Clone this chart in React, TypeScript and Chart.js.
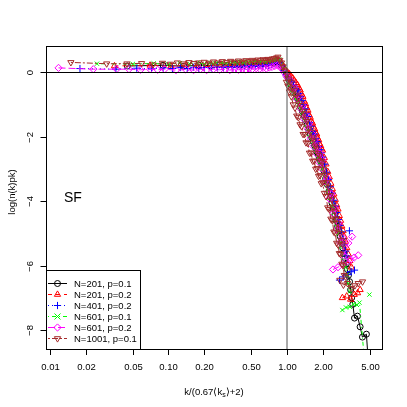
import React, { useEffect, useRef } from "react";
import { Chart, registerables } from "chart.js";
Chart.register(...registerables);

const seriesLabels = ["N=201, p=0.1", "N=201, p=0.2", "N=401, p=0.2", "N=601, p=0.1", "N=601, p=0.2", "N=1001, p=0.1"];
const seriesColors = ["#000000", "#FF0000", "#0000FF", "#00FF00", "#FF00FF", "#A52A2A"];

const xTicks = [0.01, 0.02, 0.05, 0.1, 0.2, 0.5, 1, 2, 5];
const xTickLabels = ["0.01", "0.02", "0.05", "0.10", "0.20", "0.50", "1.00", "2.00", "5.00"];
const yTicks = [0, -2, -4, -6, -8];
const yTickLabels = ["0", "\u22122", "\u22124", "\u22126", "\u22128"];

// null entries break the connecting line (separate runs)
// N=201, p=0.1
const x1 = [0.045, 0.09, 0.135, 0.18, 0.225, 0.27, 0.315, 0.36, 0.405, 0.45, 0.495, 0.54, 0.585, 0.63, 0.675, 0.72, 0.765, 0.81, 0.855, 0.9, 0.945, 0.99, 1.035, 1.08, 1.125, 1.17, 1.215, 1.26, 1.305, 1.35, 1.395, 1.44, 1.485, 1.53, 1.575, 1.62, 1.665, 1.71, 1.755, 1.8, 1.845, 1.89, 1.935, 1.98, 2.05, 2.12, 2.19, 2.26, 2.33, 2.4, 2.47, 2.54, 2.61, 2.68, 2.75, 2.82, 2.89, 2.96, 3.03, 3.1, 3.17, 3.24, 3.31, 3.38, 3.45, 3.52, 3.6, 3.72, 3.94, 4.15, 4.34, 4.69, 4.95];
const y1 = [0.2, 0.22, 0.19, 0.23, 0.21, 0.24, 0.22, 0.25, 0.23, 0.26, 0.24, 0.27, 0.25, 0.28, 0.27, 0.3, 0.29, 0.33, 0.35, 0.22, 0.08, -0.06, -0.22, -0.38, -0.52, -0.65, -0.78, -0.9, -1.06, -1.2, -1.34, -1.5, -1.62, -1.78, -1.92, -2.02, -2.15, -2.26, -2.36, -2.48, -2.57, -2.68, -2.78, -2.88, -3.05, -3.3, -3.48, -3.7, -3.88, -4.05, -4.25, -4.42, -4.6, -4.78, -4.92, -5.1, -5.28, -5.45, -5.62, -5.78, -5.95, -6.12, -6.3, -6.5, -6.75, -7.0, -7.2, -7.63, -7.57, -7.9, -8.22, -8.13, -9.4];

// N=201, p=0.2
const x2 = [0.035, 0.07, 0.105, 0.14, 0.175, 0.21, 0.245, 0.28, 0.315, 0.35, 0.385, 0.42, 0.455, 0.49, 0.525, 0.56, 0.595, 0.63, 0.665, 0.7, 0.735, 0.77, 0.805, 0.84, 0.875, 0.91, 0.945, 0.98, 1.015, 1.05, 1.085, 1.12, 1.155, 1.19, 1.225, 1.26, 1.295, 1.33, 1.365, 1.4, 1.435, 1.47, 1.505, 1.54, 1.575, 1.61, 1.645, 1.68, 1.715, 1.75, 1.785, 1.82, 1.855, 1.89, 1.925, 1.96, 2.0, 2.07, 2.14, 2.21, 2.28, 2.35, 2.42, 2.49, 2.56, 2.63, 2.7, 2.77, 2.84, 2.91, 2.98, 3.05, 3.12, 3.2, 3.3, 3.4, 3.5, null, 2.94, 3.2, 3.45, 3.7, 3.95, 4.15];
const y2 = [0.2, 0.22, 0.19, 0.23, 0.2, 0.24, 0.21, 0.25, 0.22, 0.26, 0.24, 0.27, 0.25, 0.28, 0.26, 0.29, 0.27, 0.3, 0.28, 0.31, 0.29, 0.33, 0.35, 0.38, 0.34, 0.26, 0.15, 0.05, 0.0, -0.05, -0.12, -0.18, -0.25, -0.32, -0.38, -0.48, -0.55, -0.68, -0.75, -0.9, -0.98, -1.1, -1.18, -1.32, -1.4, -1.52, -1.58, -1.7, -1.76, -1.88, -1.92, -2.05, -2.1, -2.22, -2.28, -2.38, -2.42, -2.65, -2.85, -3.08, -3.25, -3.45, -3.62, -3.78, -3.95, -4.12, -4.25, -4.45, -4.6, -4.78, -4.92, -5.1, -5.25, -5.45, -5.65, -5.85, -6.05, null, -7.0, -6.95, -7.05, -6.9, -6.85, -6.75];

// N=401, p=0.2
const x3 = [0.0179, 0.036, 0.054, 0.072, 0.09, 0.108, 0.126, 0.144, 0.162, 0.18, 0.2, 0.23, 0.26, 0.29, 0.32, 0.35, 0.38, 0.41, 0.44, 0.47, 0.5, 0.54, 0.58, 0.62, 0.66, 0.7, 0.74, 0.78, 0.82, 0.86, 0.9, 0.94, 0.98, 1.02, 1.06, 1.1, 1.14, 1.18, 1.22, 1.26, 1.3, 1.34, 1.38, 1.42, 1.46, 1.5, 1.55, 1.6, 1.65, 1.7, 1.75, 1.8, 1.85, 1.9, 1.95, 2.0, 2.08, 2.16, 2.24, 2.32, 2.4, 2.48, 2.56, 2.64, 2.72, 2.8, 2.88, 2.96, 3.04, 3.12, 3.2, null, 3.37, null, 2.78, 3.0, 3.25, 3.49, 3.72];
const y3 = [0.12, 0.1, 0.13, 0.11, 0.14, 0.12, 0.15, 0.12, 0.16, 0.13, 0.15, 0.14, 0.17, 0.15, 0.18, 0.16, 0.19, 0.17, 0.2, 0.18, 0.21, 0.19, 0.22, 0.2, 0.23, 0.22, 0.25, 0.27, 0.3, 0.32, 0.2, 0.05, -0.08, -0.18, -0.26, -0.3, -0.4, -0.5, -0.55, -0.65, -0.75, -0.87, -1.0, -1.13, -1.27, -1.37, -1.55, -1.67, -1.83, -1.91, -2.05, -2.15, -2.3, -2.4, -2.5, -2.63, -2.85, -3.1, -3.33, -3.55, -3.75, -3.97, -4.15, -4.35, -4.57, -4.75, -4.95, -5.17, -5.35, -5.55, -5.7, null, -4.92, null, -6.45, -6.35, -6.28, -6.19, -6.14];

// N=601, p=0.1
const x4 = [0.0249, 0.05, 0.075, 0.1, 0.125, 0.15, 0.175, 0.2, 0.225, 0.25, 0.28, 0.31, 0.34, 0.37, 0.4, 0.43, 0.46, 0.5, 0.54, 0.58, 0.62, 0.66, 0.7, 0.74, 0.78, 0.82, 0.86, 0.9, 0.94, 0.98, 1.02, 1.06, 1.1, 1.14, 1.18, 1.22, 1.26, 1.3, 1.34, 1.38, 1.42, 1.46, 1.5, 1.55, 1.6, 1.65, 1.7, 1.75, 1.8, 1.85, 1.9, 1.95, 2.0, 2.08, 2.16, 2.24, 2.32, 2.4, 2.48, 2.56, 2.64, 2.72, 2.8, 2.88, 2.96, 3.04, 3.12, 3.2, 3.3, 3.4, null, 2.94, 3.15, 3.4, 3.65, 3.9, 4.1, 4.6, null, 4.97];
const y4 = [0.27, 0.26, 0.28, 0.25, 0.29, 0.27, 0.3, 0.26, 0.3, 0.28, 0.31, 0.27, 0.32, 0.29, 0.33, 0.3, 0.34, 0.31, 0.35, 0.32, 0.36, 0.33, 0.37, 0.35, 0.39, 0.42, 0.4, 0.25, 0.1, -0.1, -0.25, -0.38, -0.55, -0.65, -0.8, -0.88, -1.0, -1.12, -1.25, -1.38, -1.5, -1.62, -1.78, -1.92, -2.08, -2.2, -2.32, -2.45, -2.55, -2.68, -2.8, -2.9, -3.0, -3.25, -3.45, -3.7, -3.9, -4.15, -4.38, -4.6, -4.8, -5.0, -5.2, -5.4, -5.62, -5.85, -6.05, -6.3, -6.55, -6.8, null, -7.38, -7.3, -7.28, -7.2, -7.22, -7.15, -9.3, null, -6.9];

// N=601, p=0.2
const x5 = [0.0118, 0.0232, 0.0365, 0.0464, 0.058, 0.07, 0.081, 0.093, 0.116, 0.14, 0.163, 0.186, 0.21, 0.24, 0.27, 0.3, 0.33, 0.36, 0.39, 0.42, 0.45, 0.48, 0.51, 0.55, 0.59, 0.63, 0.67, 0.71, 0.75, 0.79, 0.83, 0.87, 0.91, 0.95, 0.99, 1.02, 1.07, 1.115, 1.16, 1.21, 1.255, 1.3, 1.35, 1.395, 1.44, 1.49, 1.535, 1.58, 1.63, 1.675, 1.72, 1.77, 1.815, 1.86, 1.91, 1.955, 2.0, 2.09, 2.18, 2.28, 2.37, 2.46, 2.55, 2.65, 2.74, 2.83, 2.93, 3.02, 3.3, 3.55, null, 2.45, 2.7, 2.95, 3.2, 3.45, 3.7, 4.0];
const y5 = [0.14, 0.1, 0.1, 0.1, 0.08, 0.1, 0.08, 0.1, 0.07, 0.09, 0.07, 0.1, 0.07, 0.1, 0.08, 0.1, 0.07, 0.1, 0.08, 0.11, 0.09, 0.12, 0.1, 0.13, 0.11, 0.14, 0.12, 0.15, 0.17, 0.2, 0.22, 0.2, 0.1, 0.0, -0.12, -0.15, -0.25, -0.5, -0.48, -0.82, -0.75, -1.12, -1.02, -1.45, -1.32, -1.75, -1.6, -2.05, -1.9, -2.3, -2.1, -2.52, -2.32, -2.78, -2.52, -2.98, -2.72, -3.38, -3.28, -3.92, -3.78, -4.38, -4.22, -4.88, -4.68, -5.28, -5.12, -5.68, -5.3, -5.1, null, -6.12, -6.05, -5.95, -5.88, -5.82, -5.75, -5.68];

// N=1001, p=0.1 (two runs plus tail)
const x6 = [0.015, 0.0301, 0.0446, 0.0593, 0.074, 0.089, 0.104, 0.119, 0.134, 0.149, 0.164, 0.18, 0.2, 0.22, 0.24, 0.26, 0.285, 0.31, 0.335, 0.36, 0.39, 0.42, 0.45, 0.48, 0.51, 0.54, 0.57, 0.6, 0.63, 0.66, 0.69, 0.72, 0.75, 0.78, 0.81, 0.84, 0.87, 0.9, 0.93, 0.96, 0.99, 1.02, 1.05, 1.09, 1.13, 1.17, 1.21, 1.25, 1.29, 1.33, 1.37, 1.41, 1.45, 1.5, 1.55, 1.6, 1.65, 1.7, 1.75, 1.8, 1.85, 1.9, 1.95, 2.0, 2.07, 2.14, 2.21, 2.28, 2.35, 2.42, 2.49, 2.56, 2.63, 2.7, 2.77, 2.84, 2.91, 2.98, 3.05, 3.12, null,
  1.0, 1.04, 1.08, 1.12, 1.16, 1.2, 1.24, 1.28, 1.32, 1.36, 1.4, 1.44, 1.48, 1.53, 1.58, 1.63, 1.68, 1.73, 1.78, 1.83, 1.88, 1.93, 1.98, 2.04, 2.11, 2.18, 2.25, 2.32, 2.39, 2.46, 2.53, 2.6, 2.67, 2.74, 2.81, 2.88, 2.95, null,
  2.8, 3.0, 3.25, 3.5, 3.75, 4.0, 4.35];
const y6 = [0.31, 0.27, 0.27, 0.28, 0.24, 0.29, 0.26, 0.3, 0.27, 0.31, 0.28, 0.3, 0.32, 0.29, 0.33, 0.3, 0.34, 0.31, 0.35, 0.32, 0.36, 0.33, 0.37, 0.34, 0.38, 0.35, 0.39, 0.37, 0.4, 0.38, 0.41, 0.39, 0.42, 0.43, 0.45, 0.48, 0.38, 0.3, 0.18, 0.05, -0.3, -0.42, -0.6, -0.75, -1.0, -1.1, -1.35, -1.4, -1.62, -1.68, -1.92, -1.92, -2.18, -2.2, -2.5, -2.5, -2.75, -2.75, -3.0, -2.98, -3.22, -3.2, -3.45, -3.42, -3.75, -3.85, -4.2, -4.25, -4.55, -4.6, -4.95, -4.98, -5.3, -5.35, -5.62, -5.65, -5.95, -6.0, -6.3, -6.35, null,
  -0.05, -0.2, -0.3, -0.48, -0.55, -0.7, -0.78, -0.95, -1.02, -1.2, -1.28, -1.45, -1.52, -1.75, -1.85, -2.03, -2.1, -2.28, -2.35, -2.52, -2.58, -2.74, -2.8, -3.0, -3.18, -3.42, -3.58, -3.82, -3.95, -4.18, -4.32, -4.55, -4.68, -4.85, -5.0, -5.22, -5.35, null,
  -6.45, -6.6, -6.55, -6.7, -6.62, -6.55, -6.5];

const seriesX = [x1, x2, x3, x4, x5, x6];
const seriesY = [y1, y2, y3, y4, y5, y6];
const pointStyles = ["circle", "triangle", "cross", "crossRot", "rectRot", "triangle"];
const pointRotations = [0, 0, 0, 0, 0, 180];
const pointRadii = [3, 3.6, 3.6, 3, 3.6, 3.6];
const dashes: number[][] = [[], [4, 4], [1, 3], [1, 3, 4, 3], [7, 3], [2, 2, 6, 2]];

const FONT = '"Liberation Sans", Arial, sans-serif';

function drawMarker(ctx: CanvasRenderingContext2D, kind: number, x: number, y: number, color: string) {
  ctx.save();
  ctx.strokeStyle = color;
  ctx.lineWidth = 1;
  ctx.setLineDash([]);
  ctx.beginPath();
  if (kind === 0) {
    ctx.arc(x, y, 3, 0, Math.PI * 2);
  } else if (kind === 1 || kind === 5) {
    const r = 3.6;
    const s = kind === 5 ? -1 : 1;
    ctx.moveTo(x, y - s * r);
    ctx.lineTo(x + r * 0.866, y + s * r * 0.5);
    ctx.lineTo(x - r * 0.866, y + s * r * 0.5);
    ctx.closePath();
  } else if (kind === 2) {
    ctx.moveTo(x - 3.6, y); ctx.lineTo(x + 3.6, y);
    ctx.moveTo(x, y - 3.6); ctx.lineTo(x, y + 3.6);
  } else if (kind === 3) {
    ctx.moveTo(x - 3, y - 3); ctx.lineTo(x + 3, y + 3);
    ctx.moveTo(x - 3, y + 3); ctx.lineTo(x + 3, y - 3);
  } else {
    ctx.moveTo(x, y - 3.6); ctx.lineTo(x + 3.6, y); ctx.lineTo(x, y + 3.6); ctx.lineTo(x - 3.6, y);
    ctx.closePath();
  }
  ctx.stroke();
  ctx.restore();
}

const overlayPlugin = {
  id: "overlay",
  afterDatasetsDraw(chart: any) {
    const { ctx, chartArea: a, scales } = chart;
    const xs = scales.x;
    const ys = scales.y;
    ctx.save();
    ctx.lineWidth = 1;
    ctx.setLineDash([]);
    ctx.strokeStyle = "#000";
    const yz = Math.round(ys.getPixelForValue(0)) + 0.5;
    ctx.beginPath(); ctx.moveTo(a.left, yz); ctx.lineTo(a.right, yz); ctx.stroke();
    const xo = Math.round(xs.getPixelForValue(1));
    ctx.strokeStyle = "#555";
    ctx.beginPath(); ctx.moveTo(xo, a.top); ctx.lineTo(xo, a.bottom); ctx.stroke();
    ctx.strokeStyle = "#000";
    ctx.strokeRect(a.left + 0.5, a.top + 0.5, a.right - a.left, a.bottom - a.top);
    ctx.fillStyle = "#000";
    ctx.font = `9.5px ${FONT}`;
    ctx.textAlign = "center";
    ctx.textBaseline = "middle";
    xTicks.forEach((v, i) => {
      const px = Math.round(xs.getPixelForValue(v)) + 0.5;
      ctx.beginPath(); ctx.moveTo(px, a.bottom + 0.5); ctx.lineTo(px, a.bottom + 6); ctx.stroke();
      ctx.fillText(xTickLabels[i], px, a.bottom + 18);
    });
    yTicks.forEach((v, i) => {
      const py = Math.round(ys.getPixelForValue(v)) + 0.5;
      ctx.beginPath(); ctx.moveTo(a.left + 0.5, py); ctx.lineTo(a.left - 5.5, py); ctx.stroke();
      ctx.save();
      ctx.translate(a.left - 16, py);
      ctx.rotate(-Math.PI / 2);
      ctx.fillText(yTickLabels[i], 0, 0);
      ctx.restore();
    });
    ctx.save();
    ctx.translate(12, 192);
    ctx.rotate(-Math.PI / 2);
    ctx.fillText("log(n(k)pk)", 0, 0);
    ctx.restore();
    const parts = ["k/(0.67\u27E8k", "s", "\u27E9+2)"];
    ctx.font = `9.5px ${FONT}`;
    const w0 = ctx.measureText(parts[0]).width;
    const w2 = ctx.measureText(parts[2]).width;
    ctx.font = `7px ${FONT}`;
    const w1 = ctx.measureText(parts[1]).width;
    let tx = 214 - (w0 + w1 + w2) / 2;
    const ty = 392;
    ctx.textAlign = "left";
    ctx.font = `9.5px ${FONT}`;
    ctx.fillText(parts[0], tx, ty);
    tx += w0;
    ctx.font = `7px ${FONT}`;
    ctx.fillText(parts[1], tx, ty + 3);
    tx += w1;
    ctx.font = `9.5px ${FONT}`;
    ctx.fillText(parts[2], tx, ty);
    ctx.font = `14px ${FONT}`;
    ctx.textBaseline = "alphabetic";
    ctx.fillText("SF", 64, 202);
    const lx = a.left, ly = 270, lw = 94, lh = a.bottom - 270;
    ctx.fillStyle = "#fff";
    ctx.fillRect(lx + 0.5, ly + 0.5, lw, lh);
    ctx.strokeStyle = "#000";
    ctx.strokeRect(lx + 0.5, ly + 0.5, lw, lh);
    ctx.font = `9.5px ${FONT}`;
    ctx.textBaseline = "middle";
    ctx.textAlign = "left";
    seriesLabels.forEach((lab, i) => {
      const ry = 283 + i * 11;
      ctx.strokeStyle = seriesColors[i];
      ctx.lineWidth = 1;
      ctx.setLineDash(dashes[i]);
      ctx.beginPath(); ctx.moveTo(48, ry + 0.5); ctx.lineTo(67, ry + 0.5); ctx.stroke();
      ctx.setLineDash([]);
      drawMarker(ctx, i, 57.5, ry + 0.5, seriesColors[i]);
      ctx.fillStyle = "#000";
      ctx.fillText(lab, 74, ry + 1);
    });
    ctx.restore();
  },
};

export default function App() {
  const ref = useRef<HTMLCanvasElement | null>(null);
  useEffect(() => {
    document.body.style.margin = "0";
    document.body.style.overflow = "hidden";
    const canvas = ref.current;
    if (!canvas) return;
    const datasets = seriesX.map((xs, i) => ({
      label: seriesLabels[i],
      data: xs.map((x, j) => ({ x, y: seriesY[i][j] })),
      showLine: true,
      spanGaps: false,
      borderColor: seriesColors[i],
      borderWidth: 1,
      borderDash: dashes[i],
      backgroundColor: "rgba(0,0,0,0)",
      pointStyle: pointStyles[i],
      pointRotation: pointRotations[i],
      pointRadius: pointRadii[i],
      pointBorderColor: seriesColors[i],
      pointBackgroundColor: "rgba(0,0,0,0)",
      pointBorderWidth: 1,
      order: 5 - i,
    }));
    const chart = new Chart(canvas, {
      type: "scatter",
      data: { datasets },
      options: {
        responsive: false,
        animation: false,
        devicePixelRatio: 1,
        events: [],
        layout: { padding: { left: 46, top: 46, right: 25, bottom: 58 } },
        plugins: { legend: { display: false }, tooltip: { enabled: false } },
        scales: {
          x: { type: "logarithmic", min: 0.00925, max: 6.35, display: false },
          y: { type: "linear", min: -8.59, max: 0.82, display: false },
        },
      },
      plugins: [overlayPlugin],
    } as any);
    return () => chart.destroy();
  }, []);
  return (
    <canvas ref={ref} width={407} height={407} style={{ display: "block", width: 407, height: 407, background: "#fff" }} />
  );
}
